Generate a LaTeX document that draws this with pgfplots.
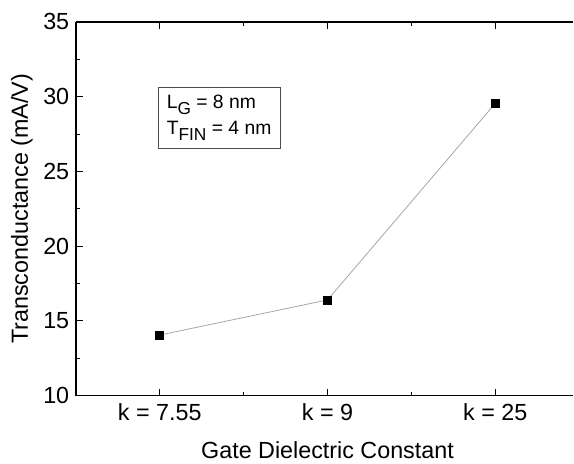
\documentclass[border=0pt]{standalone}
\usepackage{fontspec}
\setmainfont{Liberation Sans}
\usepackage{pgfplots}
\pgfplotsset{compat=1.18}

\begin{document}
\begin{tikzpicture}
\begin{axis}[
    scale only axis,
    width=373.5pt, height=280.5pt,
    xmin=-0.5, xmax=2.466,
    ymin=10, ymax=35,
    separate axis lines,
    axis x line=box,
    axis y line=left,
    axis line style={-, black, line width=0.9pt},
    xtick={0,1,2},
    xticklabels={k = 7.55, k = 9, k = 25},
    minor xtick={0.5,1.5},
    ytick={10,15,20,25,30,35},
    minor ytick={12.5,17.5,22.5,27.5,32.5},
    tick align=inside,
    major tick length=5pt,
    minor tick length=3pt,
    tick style={black, line width=0.7pt},
    ticklabel style={font=\fontsize{17.5}{19}\selectfont},
    xticklabel style={yshift=-2.5pt},
    yticklabel style={xshift=-1.5pt},
    /pgf/number format/assume math mode=true,
    xlabel={Gate Dielectric Constant},
    ylabel={Transconductance (mA/V)},
    label style={font=\fontsize{17.5}{19}\selectfont},
    xlabel style={at={(axis description cs:0.5057,-0.146)}, anchor=center},
    ylabel style={at={(axis description cs:-0.1085,0.5)}, anchor=center},
    clip=false,
]
\addplot[gray!70, line width=0.6pt, mark=square*, mark size=3pt,
    mark options={black, fill=black}]
    coordinates {(0,14.05) (1,16.4) (2,29.55)};
\node[draw=black!70, line width=0.5pt, anchor=north west, align=left,
      font=\fontsize{14.5}{19.5}\selectfont, inner xsep=6.5pt, inner ysep=6pt]
    at (axis cs:-0.012,30.65)
    {L\raisebox{-0.3em}{\fontsize{13}{13}\selectfont G} = 8 nm\\
     T\raisebox{-0.3em}{\fontsize{13}{13}\selectfont FIN} = 4 nm};
\end{axis}
\path ([xshift=-57pt,yshift=16.5pt]current axis.north west);
\path ([xshift=-57pt,yshift=-50pt]current axis.south west);
\end{tikzpicture}
\end{document}
